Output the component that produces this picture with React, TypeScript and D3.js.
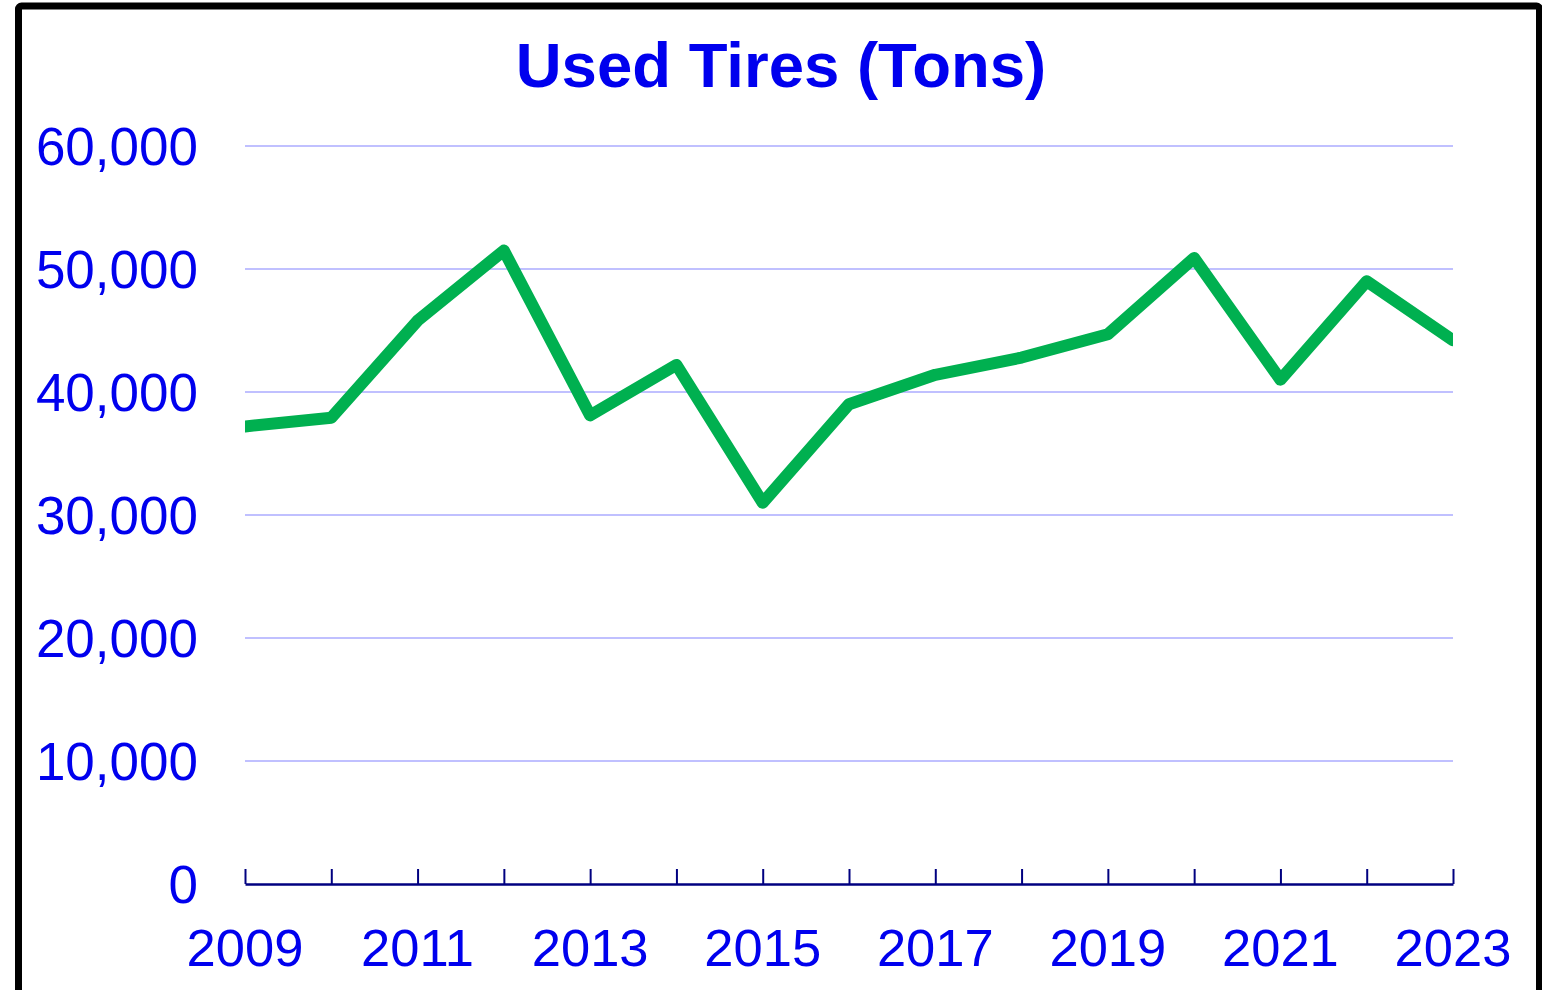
import React, { useEffect, useRef } from "react";
import * as d3 from "d3";

const years = [2009, 2010, 2011, 2012, 2013, 2014, 2015, 2016, 2017, 2018, 2019, 2020, 2021, 2022, 2023];
const tons = [37200, 37900, 45800, 51500, 38100, 42200, 31000, 39000, 41400, 42800, 44700, 50900, 41000, 49000, 44200];
const yTicks = [0, 10000, 20000, 30000, 40000, 50000, 60000];
const xLabelYears = [2009, 2011, 2013, 2015, 2017, 2019, 2021, 2023];

const W = 1542;
const H = 990;

export default function App() {
  const ref = useRef<SVGSVGElement>(null);

  useEffect(() => {
    const svg = d3.select(ref.current);
    svg.selectAll("*").remove();

    const left = 245, right = 1453, top = 146, bottom = 884;
    const font = "'Liberation Sans', Arial, sans-serif";

    const x = d3.scaleLinear().domain([2009, 2023]).range([left, right]);
    const y = d3.scaleLinear().domain([0, 60000]).range([bottom, top]);

    svg.append("rect").attr("width", W).attr("height", H).attr("fill", "#fff");

    // frame (bottom runs off the page)
    svg.append("rect")
      .attr("x", 18.5).attr("y", 6)
      .attr("width", 1521).attr("height", 1100)
      .attr("fill", "none").attr("stroke", "#000").attr("stroke-width", 7)
      .attr("rx", 3);

    // title
    svg.append("text")
      .attr("x", 781).attr("y", 87)
      .attr("text-anchor", "middle")
      .attr("font-family", font).attr("font-weight", "bold")
      .attr("font-size", 63.5).attr("fill", "#0000EE")
      .text("Used Tires (Tons)");

    // gridlines
    svg.append("g").selectAll("line")
      .data(yTicks.filter(d => d > 0))
      .join("line")
      .attr("x1", left).attr("x2", right)
      .attr("y1", d => y(d)).attr("y2", d => y(d))
      .attr("stroke", "#C0C0FF").attr("stroke-width", 2);

    // y labels
    svg.append("g").selectAll("text")
      .data(yTicks)
      .join("text")
      .attr("x", 198).attr("y", d => y(d) + 19)
      .attr("text-anchor", "end")
      .attr("font-family", font).attr("font-size", 53).attr("fill", "#0000EE")
      .text(d => d3.format(",")(d));

    // x axis, ticks point up
    const axis = d3.axisBottom(x)
      .tickValues(years)
      .tickSize(-15)
      .tickSizeOuter(0)
      .tickFormat(() => "");
    const ax = svg.append("g").attr("transform", `translate(0,${bottom})`).call(axis);
    ax.select(".domain").attr("stroke", "#000080").attr("stroke-width", 2.5);
    ax.selectAll(".tick line").attr("stroke", "#000080").attr("stroke-width", 2);

    svg.append("g").selectAll("text")
      .data(xLabelYears)
      .join("text")
      .attr("x", d => x(d)).attr("y", 966)
      .attr("text-anchor", "middle")
      .attr("font-family", font).attr("font-size", 52.5).attr("fill", "#0000EE")
      .text(d => String(d));

    // line, clipped to the plot width
    svg.append("clipPath").attr("id", "plot-clip")
      .append("rect").attr("x", left).attr("y", 0).attr("width", right - left).attr("height", H);

    const line = d3.line<number>()
      .x((_, i) => x(years[i]))
      .y(d => y(d));

    svg.append("path")
      .datum(tons)
      .attr("clip-path", "url(#plot-clip)")
      .attr("d", line)
      .attr("fill", "none")
      .attr("stroke", "#00B050")
      .attr("stroke-width", 12)
      .attr("stroke-linejoin", "round")
      .attr("stroke-linecap", "round");
  }, []);

  return (
    <svg ref={ref} width={W} height={H}
      style={{ position: "absolute", left: 0, top: 0, display: "block" }} />
  );
}
